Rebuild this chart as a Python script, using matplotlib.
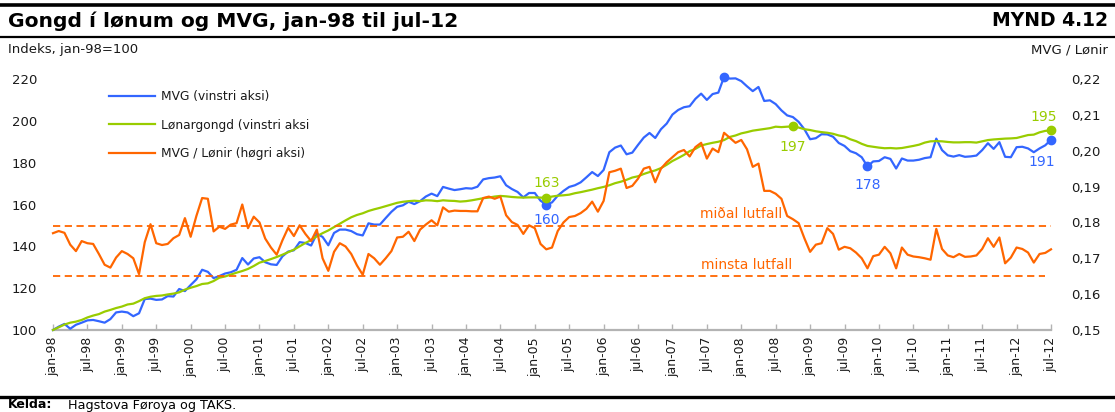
import matplotlib.pyplot as plt
from matplotlib.lines import Line2D

# monthly data jan-98 .. jul-12 (175 months)
mvg = [
    100.0, 101.6, 102.9, 100.6, 102.5, 103.5, 104.6, 104.8, 104.2, 103.5,
    105.2, 108.4, 108.8, 108.4, 106.6, 108.0, 114.8, 115.0, 114.4, 114.6,
    116.2, 116.0, 119.6, 118.6, 121.5, 124.2, 128.8, 127.8, 124.8, 125.8,
    127.0, 127.6, 128.8, 134.4, 131.3, 134.2, 134.8, 132.4, 131.4, 131.1,
    135.2, 137.5, 138.1, 142.0, 141.6, 140.4, 146.0, 144.5, 140.5, 146.4,
    148.0, 148.0, 147.3, 145.8, 145.2, 151.0, 150.4, 150.4, 153.5, 156.5,
    158.9, 159.6, 161.3, 160.2, 161.6, 163.8, 165.2, 164.0, 168.4, 167.6,
    166.9, 167.3, 167.8, 167.6, 168.5, 172.0, 172.6, 172.9, 173.5, 169.2,
    167.4, 166.0, 163.4, 165.5, 165.5, 161.8, 160.0, 161.0, 164.2, 166.5,
    168.4, 169.2, 170.6, 173.0, 175.5, 173.6, 176.5, 185.0, 187.2, 188.2,
    184.0, 184.8, 188.5, 192.0, 194.2, 191.8, 196.0, 198.7, 203.0, 205.2,
    206.5, 207.0, 210.5, 213.0, 210.0, 212.8, 213.5, 221.0, 220.2, 220.3,
    219.0, 216.5, 214.2, 216.2, 209.5, 209.8, 208.0, 205.0, 202.6, 201.8,
    199.5, 196.0, 191.2, 191.7, 193.6, 193.5, 192.4, 189.4, 188.0, 185.5,
    184.5, 182.6, 178.2, 180.6, 180.8, 182.6, 181.8, 177.2, 182.0, 181.0,
    181.0, 181.4, 182.2, 182.6, 191.5, 186.0, 183.5, 182.9, 183.6, 182.8,
    183.0, 183.4, 186.0, 189.3, 186.6, 189.8, 182.8, 182.6, 187.4, 187.6,
    186.8, 185.0, 186.8, 188.3, 191.0,
]
lonir = [
    100.0, 101.3, 102.6, 103.5, 104.0, 104.8, 106.0, 106.9, 107.6, 108.8,
    109.6, 110.5, 111.2, 112.2, 112.6, 113.8, 115.2, 115.9, 116.3, 116.5,
    117.0, 117.4, 118.0, 119.3, 120.2, 121.0, 122.0, 122.3, 123.4, 125.0,
    125.6, 126.5, 127.4, 128.2, 129.2, 130.6, 132.2, 133.0, 133.9, 134.9,
    136.0, 137.2, 138.4, 140.0, 141.6, 143.0, 144.8, 146.3, 147.6, 149.2,
    150.8, 152.4, 153.9, 155.0, 155.8, 156.9, 157.7, 158.4, 159.2, 160.0,
    160.8, 161.3, 161.6, 161.8, 161.6, 162.0, 161.9, 161.6, 162.0, 161.8,
    161.7, 161.4, 161.6, 162.0, 162.5, 163.0, 163.3, 163.8, 164.1, 163.9,
    163.6, 163.4, 163.3, 163.4, 163.4, 163.3, 163.2, 163.8, 164.2, 164.4,
    164.7, 165.4, 165.9, 166.5, 167.1, 167.8, 168.4, 169.2, 170.2, 170.9,
    171.8, 172.9, 173.5, 174.6, 175.5, 176.3, 177.4, 179.0, 180.8, 182.2,
    183.7, 185.5, 186.6, 188.2, 188.9, 189.5, 190.0, 190.8, 192.3, 193.0,
    194.0, 194.6, 195.3, 195.7, 196.1, 196.5, 197.2, 197.0, 197.2, 197.3,
    196.8, 196.0, 195.6, 195.0, 194.6, 194.3, 193.8, 193.0, 192.5, 191.2,
    190.3, 189.0, 188.0, 187.6, 187.2, 186.9, 187.0, 186.8, 187.0, 187.5,
    188.0, 188.6, 189.6, 190.2, 190.3, 190.2, 189.9, 189.7, 189.7, 189.8,
    189.8, 189.6, 190.2, 190.8, 191.1, 191.3, 191.5, 191.6, 191.8, 192.5,
    193.2, 193.4, 194.5, 195.2, 195.4,
]
ratio = [
    0.1770, 0.1776, 0.1771, 0.1738, 0.1720, 0.1748, 0.1742, 0.1740, 0.1712, 0.1682,
    0.1674, 0.1702, 0.1720, 0.1712, 0.1700, 0.1656, 0.1745, 0.1795, 0.1742, 0.1737,
    0.1740, 0.1756, 0.1765, 0.1812, 0.1760, 0.1818, 0.1868, 0.1866, 0.1775, 0.1788,
    0.1782, 0.1794, 0.1798, 0.1850, 0.1784, 0.1816, 0.1800, 0.1755, 0.1730, 0.1710,
    0.1750, 0.1785, 0.1762, 0.1792, 0.1768, 0.1748, 0.1780, 0.1700, 0.1665, 0.1718,
    0.1742, 0.1733, 0.1712, 0.1680, 0.1654, 0.1712, 0.1700, 0.1682, 0.1700, 0.1720,
    0.1758, 0.1760, 0.1774, 0.1748, 0.1780, 0.1794, 0.1806, 0.1792, 0.1842, 0.1830,
    0.1833, 0.1832, 0.1832, 0.1831, 0.1831, 0.1868, 0.1872, 0.1866, 0.1872, 0.1820,
    0.1801, 0.1793, 0.1768, 0.1792, 0.1784, 0.1740, 0.1725, 0.1730, 0.1776, 0.1800,
    0.1815, 0.1818, 0.1826, 0.1838, 0.1858, 0.1830, 0.1860, 0.1940, 0.1944, 0.1950,
    0.1896, 0.1902, 0.1922, 0.1950, 0.1955, 0.1912, 0.1950, 0.1968, 0.1982, 0.1996,
    0.2002, 0.1984, 0.2010, 0.2022, 0.1978, 0.2006, 0.1996, 0.2050, 0.2036, 0.2022,
    0.2030, 0.2004, 0.1955, 0.1964, 0.1888, 0.1888, 0.1880, 0.1866, 0.1818, 0.1809,
    0.1798, 0.1756, 0.1718, 0.1738, 0.1742, 0.1784, 0.1768, 0.1724, 0.1732, 0.1728,
    0.1716, 0.1700, 0.1672, 0.1706, 0.1710, 0.1732, 0.1714, 0.1672, 0.1730, 0.1710,
    0.1705, 0.1703, 0.1700, 0.1696, 0.1782, 0.1726, 0.1708, 0.1703, 0.1712, 0.1704,
    0.1705, 0.1708, 0.1726, 0.1756, 0.1732, 0.1758, 0.1686, 0.1702, 0.1730, 0.1726,
    0.1716, 0.1688, 0.1712, 0.1715, 0.1725,
]
midal_lutfall = 0.179
minsta_lutfall = 0.165

# labelled points: (month index, series)
mvg_marks = [117, 86, 142, 174]
lonir_marks = [86, 129, 174]

years = list(range(98, 100)) + list(range(0, 13))
tick_labels = []
for y in years:
    tick_labels += ["jan-%02d" % y, "jul-%02d" % y]
tick_labels = tick_labels[:30]

BLUE = "#3366ff"
GREEN = "#99cc00"
ORANGE = "#ff6600"
TXT = "#1a1a1a"

plt.rcParams['font.family'] = ['DejaVu Sans']

fig = plt.figure(figsize=(11.15, 4.12), dpi=100)
W, H = 1115.0, 412.0

# frame lines and headings
fig.add_artist(Line2D([0, 1], [1 - 4.5 / H] * 2, color="black", lw=2.6))
fig.add_artist(Line2D([0, 1], [1 - 37 / H] * 2, color="black", lw=1.6))
fig.add_artist(Line2D([0, 1], [1 - 397 / H] * 2, color="black", lw=2.4))
fig.text(8 / W, 1 - 21 / H, "Gongd í lønum og MVG, jan-98 til jul-12",
         fontsize=14.6, fontweight="bold", va="center", ha="left")
fig.text(1108 / W, 1 - 21 / H, "MYND 4.12", fontsize=13.5,
         fontweight="bold", va="center", ha="right")
fig.text(8 / W, 1 - 50 / H, "Indeks, jan-98=100", fontsize=9.5,
         va="center", ha="left", color=TXT)
fig.text(1108 / W, 1 - 50 / H, "MVG / Lønir", fontsize=9.5,
         va="center", ha="right", color=TXT)
fig.text(8 / W, 1 - 405 / H, "Kelda:", fontsize=9, fontweight="bold",
         va="center", ha="left")
fig.text(68 / W, 1 - 405 / H, "Hagstova Føroya og TAKS.", fontsize=9.2,
         va="center", ha="left")

ax = fig.add_axes([53 / W, 82 / H, 998 / W, 251 / H])
ax2 = ax.twinx()
months = list(range(len(mvg)))

ax.plot(months, mvg, color=BLUE, lw=1.6, clip_on=False, zorder=3)
ax.plot(months, lonir, color=GREEN, lw=1.6, clip_on=False, zorder=3)
ax2.plot(months, ratio, color=ORANGE, lw=1.6, clip_on=False, zorder=2)
ax2.axhline(midal_lutfall, color=ORANGE, lw=1.3, ls=(0, (4, 2.5)))
ax2.axhline(minsta_lutfall, color=ORANGE, lw=1.3, ls=(0, (4, 2.5)),
            xmax=0.994)
ax2.text(120, 0.1823, "miðal lutfall", color=ORANGE, fontsize=10,
         ha="center", va="center")
ax2.text(121, 0.1680, "minsta lutfall", color=ORANGE, fontsize=10,
         ha="center", va="center")

# point labels
for i in mvg_marks:
    ax.plot(i, mvg[i], "o", color=BLUE, ms=6, clip_on=False, zorder=5)
for i in lonir_marks:
    ax.plot(i, lonir[i], "o", color=GREEN, ms=6, clip_on=False, zorder=5)
ax.annotate("%d" % round(mvg[117]), (117, mvg[117]), xytext=(0, 11),
            textcoords="offset points", color=BLUE, ha="center", fontsize=10)
ax.annotate("%d" % round(mvg[86]), (86, mvg[86]), xytext=(0, -14),
            textcoords="offset points", color=BLUE, ha="center", fontsize=10)
ax.annotate("%d" % round(mvg[142]), (142, mvg[142]), xytext=(0, -16),
            textcoords="offset points", color=BLUE, ha="center", fontsize=10)
ax.annotate("%d" % round(mvg[174]), (174, mvg[174]), xytext=(-7, -19),
            textcoords="offset points", color=BLUE, ha="center", fontsize=10)
ax.annotate("%d" % round(lonir[86]), (86, lonir[86]), xytext=(0, 8),
            textcoords="offset points", color=GREEN, ha="center", fontsize=10)
ax.annotate("%d" % round(lonir[129]), (129, lonir[129]), xytext=(0, -18),
            textcoords="offset points", color=GREEN, ha="center", fontsize=10)
ax.annotate("%d" % round(lonir[174]), (174, lonir[174]), xytext=(-5, 7),
            textcoords="offset points", color=GREEN, ha="center", fontsize=10)

# axes
ax.set_xlim(0, 174)
ax.set_ylim(100, 220)
ax2.set_ylim(0.15, 0.22)
for a in (ax, ax2):
    for s in a.spines.values():
        s.set_visible(False)
ax.spines["bottom"].set_visible(True)
ax.spines["bottom"].set_color("#b3b3b3")
ax.spines["bottom"].set_linewidth(1.6)

ax.set_xticks(range(0, 175, 6))
ax.set_xticklabels(tick_labels, rotation=90, fontsize=9, color=TXT)
ax.tick_params(axis="x", direction="in", length=4, color="#b3b3b3",
               width=1, pad=5)

ax.set_yticks(range(100, 221, 20))
ax.tick_params(axis="y", length=0, pad=29.5, labelsize=9.5, labelcolor=TXT)
for lab in ax.get_yticklabels():
    lab.set_horizontalalignment("left")

r_ticks = [0.15, 0.16, 0.17, 0.18, 0.19, 0.20, 0.21, 0.22]
ax2.set_yticks(r_ticks)
ax2.set_yticklabels([("%.2f" % t).replace(".", ",") for t in r_ticks])
ax2.tick_params(axis="y", length=0, pad=14.5, labelsize=9.5, labelcolor=TXT)

handles = [Line2D([], [], color=BLUE, lw=1.6),
           Line2D([], [], color=GREEN, lw=1.6),
           Line2D([], [], color=ORANGE, lw=1.6)]
labels = ["MVG (vinstri aksi)", "Lønargongd (vinstri aksi",
          "MVG / Lønir (høgri aksi)"]
leg = ax2.legend(handles, labels, loc="upper left",
                 bbox_to_anchor=(0.056, 0.955), frameon=False, fontsize=8.8,
                 handlelength=3.8, handletextpad=0.5, labelspacing=1.25,
                 borderpad=0, borderaxespad=0)
for t in leg.get_texts():
    t.set_color(TXT)

fig.savefig("out.png", dpi=100)
